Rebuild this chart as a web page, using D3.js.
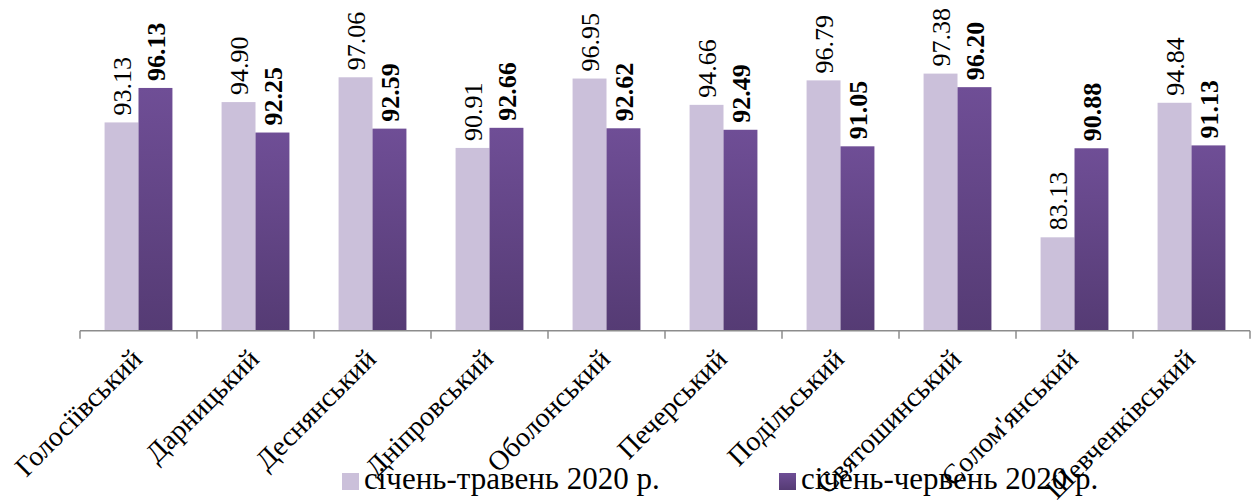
<!DOCTYPE html>
<html lang="uk">
<head>
    <meta charset="UTF-8">
    <title>Райони Києва</title>
    <style>
        body { margin: 0; background: #fff; }
        .axis-line { stroke: #8c8c8c; stroke-width: 1.5px; }
    </style>
    <script src="https://d3js.org/d3.v7.min.js"></script>
</head>
<body>
    <svg width="1253" height="501"></svg>
    <script>
        const districts = ['Голосіївський', 'Дарницький', 'Деснянський', 'Дніпровський', 'Оболонський',
            'Печерський', 'Подільський', 'Святошинський', "Солом'янський", 'Шевченківський'];
        const seriesNames = ['січень-травень 2020 р.', 'січень-червень 2020 р.'];
        const janMay = [93.13, 94.90, 97.06, 90.91, 96.95, 94.66, 96.79, 97.38, 83.13, 94.84];
        const janJun = [96.13, 92.25, 92.59, 92.66, 92.62, 92.49, 91.05, 96.20, 90.88, 91.13];
        const yDomain = [75, 100];

        const FONT = "Liberation Serif";
        const svg = d3.select("svg");

        // градієнт для темних стовпців
        const grad = svg.append("defs").append("linearGradient")
            .attr("id", "darkGrad").attr("x1", 0).attr("y1", 0).attr("x2", 0).attr("y2", 1);
        grad.append("stop").attr("offset", "0%").attr("stop-color", "#6f4e96");
        grad.append("stop").attr("offset", "100%").attr("stop-color", "#553b74");

        const x = d3.scaleBand().domain(districts).range([80, 1250]);
        const bw = x.bandwidth();
        const x1 = d3.scaleBand().domain([0, 1]).range([bw * 0.21, bw * 0.79]);
        const y = d3.scaleLinear().domain(yDomain).range([330.7, 43.5]);

        const rows = districts.map((d, i) => ({name: d, vals: [janMay[i], janJun[i]]}));
        const fills = ['#cbc0da', 'url(#darkGrad)'];

        const groups = svg.selectAll(".grp")
            .data(rows)
            .enter()
            .append("g")
            .attr("class", "grp")
            .attr("transform", d => `translate(${x(d.name)},0)`);

        // стовпці
        groups.selectAll("rect")
            .data(d => d.vals.map((v, s) => ({v, s})))
            .enter()
            .append("rect")
            .attr("x", d => x1(d.s))
            .attr("width", x1.bandwidth())
            .attr("y", d => y(d.v))
            .attr("height", d => y(yDomain[0]) - y(d.v))
            .attr("fill", d => fills[d.s]);

        // підписи значень
        groups.selectAll(".val")
            .data(d => d.vals.map((v, s) => ({v, s})))
            .enter()
            .append("text")
            .attr("class", "val")
            .attr("transform", d => `translate(${x1(d.s) + x1.bandwidth() / 2},${y(d.v) - 7}) rotate(-90)`)
            .attr("dy", "0.35em")
            .attr("font-family", FONT)
            .attr("font-size", 26)
            .attr("font-weight", d => d.s === 1 ? "bold" : "normal")
            .text(d => d.v.toFixed(2));

        // вісь X
        const base = y(yDomain[0]);
        svg.append("line").attr("class", "axis-line")
            .attr("x1", 80).attr("x2", 1250).attr("y1", base).attr("y2", base);
        const tickPos = districts.map(d => x(d)).concat([1250]);
        svg.selectAll(".tick")
            .data(tickPos)
            .enter()
            .append("line")
            .attr("class", "axis-line")
            .attr("x1", d => d).attr("x2", d => d)
            .attr("y1", base).attr("y2", base + 8);

        svg.selectAll(".cat")
            .data(districts)
            .enter()
            .append("text")
            .attr("class", "cat")
            .attr("transform", d => `translate(${x(d) + bw / 2 + 5},${base + 30}) rotate(-45)`)
            .attr("text-anchor", "end")
            .attr("font-family", FONT)
            .attr("font-size", 28)
            .text(d => d);

        // легенда
        const legendX = [342, 779];
        const legend = svg.selectAll(".leg")
            .data(seriesNames)
            .enter()
            .append("g")
            .attr("class", "leg")
            .attr("transform", (d, i) => `translate(${legendX[i]},473)`);
        legend.append("rect")
            .attr("width", 17).attr("height", 17)
            .attr("fill", (d, i) => fills[i]);
        legend.append("text")
            .attr("x", 22).attr("y", 16)
            .attr("font-family", FONT)
            .attr("font-size", 31)
            .text(d => d);
    </script>
</body>
</html>
